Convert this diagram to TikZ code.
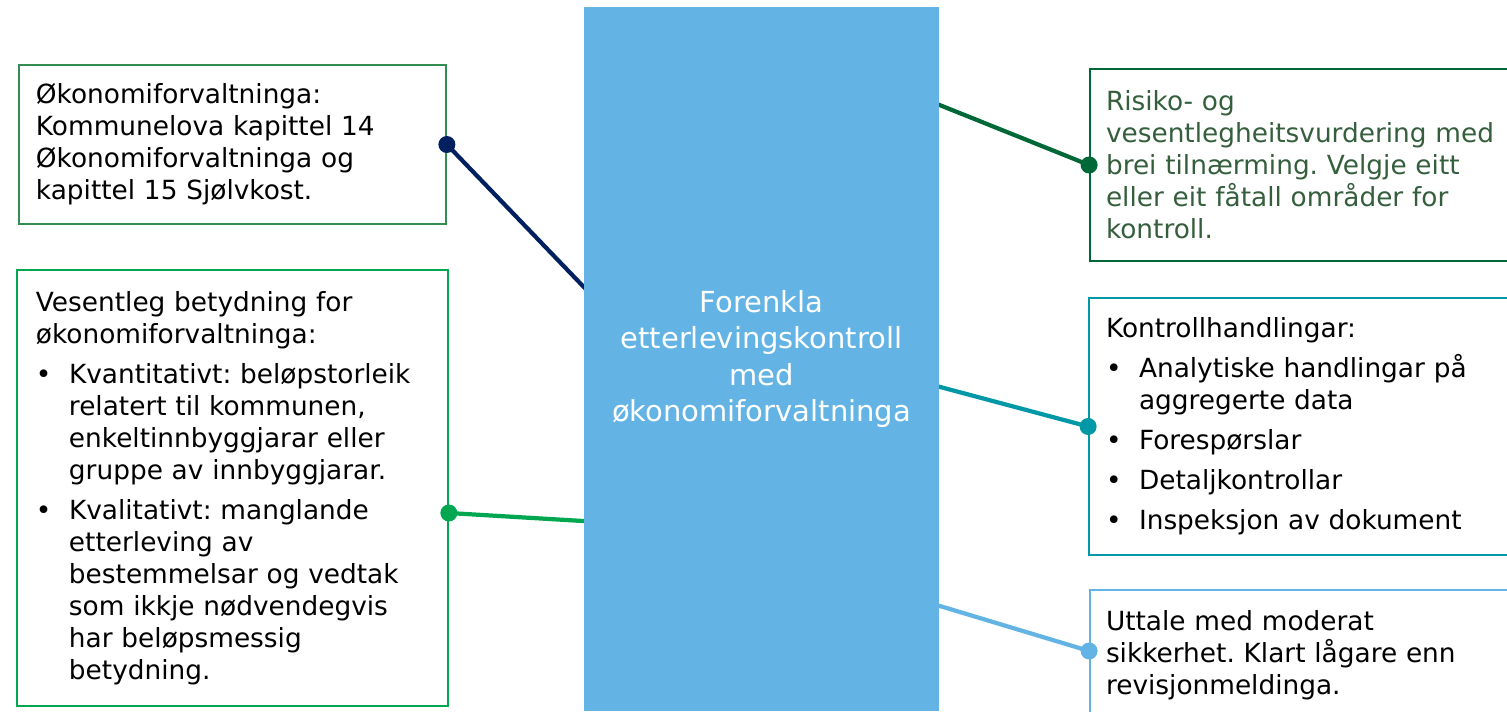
\documentclass[tikz,border=0pt]{standalone}
\usepackage{fontspec}
\setmainfont{DejaVu Sans}
\usepackage{xcolor}
\usepackage{tikz}
\usetikzlibrary{positioning,calc,backgrounds}

\definecolor{ctrblue}{RGB}{99,180,228}
\definecolor{navyline}{RGB}{0,32,96}
\definecolor{rulegreen}{RGB}{51,140,80}
\definecolor{siggreen}{RGB}{0,166,80}
\definecolor{riskgreen}{RGB}{0,104,55}
\definecolor{risktext}{RGB}{52,94,60}
\definecolor{actteal}{RGB}{0,151,167}

\frenchspacing
\newcommand{\boxfont}{\fontsize{15}{18.2}\selectfont}
\newcommand{\ctrfont}{\fontsize{16.5}{20.5}\selectfont}
\newcommand{\itm}[1]{\par\vspace{0.16cm}\hangindent=0.66cm\hangafter=1\noindent\makebox[0.66cm][l]{\textbullet}#1\par}

\begin{document}
\begin{tikzpicture}[
            infobox/.style={rectangle, draw, line width=1pt, inner ysep=0pt, align=left, font=\boxfont},
            link/.style={line width=2.4pt},
            knob/.style={circle, inner sep=0pt, minimum size=0.34cm}
        ]
        \useasboundingbox (0,0) rectangle (30.14,14.22);
        \clip (0,0) rectangle (30.14,14.22);

        \node[fill=ctrblue, minimum width=7.1cm, minimum height=14.08cm, text=white, align=center, font=\ctrfont] (ctr) at (15.23,7.04) {Forenkla\\etterlevingskontroll\\med\\økonomiforvaltninga};

        \node[infobox, draw=rulegreen, minimum width=8.54cm, minimum height=3.18cm, inner xsep=0.34cm, text width=7.86cm] (rules) at (4.65,11.33) {Økonomiforvaltninga:\newline Kommunelova kapittel 14\newline Økonomiforvaltninga og\newline kapittel 15 Sjølvkost.};

        \node[infobox, draw=siggreen, minimum width=8.62cm, minimum height=8.72cm, inner xsep=0.38cm, text width=7.86cm] (signif) at (4.65,4.46) {Vesentleg betydning for\newline økonomiforvaltninga:
            \itm{Kvantitativt: beløpstorleik\newline relatert til kommunen,\newline enkeltinnbyggjarar eller\newline gruppe av innbyggjarar.}
            \itm{Kvalitativt: manglande\newline etterleving av\newline bestemmelsar og vedtak\newline som ikkje nødvendegvis\newline har beløpsmessig\newline betydning.}};

        \node[infobox, draw=riskgreen, text=risktext, minimum width=8.64cm, minimum height=3.84cm, inner xsep=0.32cm, text width=8.0cm] (risk) at (26.12,10.92) {Risiko- og\newline vesentlegheitsvurdering med\newline brei tilnærming. Velgje eitt\newline eller eit fåtall områder for\newline kontroll.};

        \node[infobox, draw=actteal, minimum width=8.64cm, minimum height=5.14cm, inner xsep=0.34cm, text width=7.96cm] (acts) at (26.10,5.69) {Kontrollhandlingar:
            \itm{Analytiske handlingar på\newline aggregerte data}
            \itm{Forespørslar}
            \itm{Detaljkontrollar}
            \itm{Inspeksjon av dokument}};

        \node[infobox, draw=ctrblue, minimum width=8.64cm, minimum height=2.6cm, inner xsep=0.32cm, text width=8.0cm] (opinion) at (26.12,1.12) {Uttale med moderat\newline sikkerhet. Klart lågare enn\newline revisjonmeldinga.};

        \node[knob, fill=navyline] (dotA) at (rules.east) {};
        \node[knob, fill=siggreen] (dotB) at ($(signif.east)+(0,-0.5)$) {};
        \node[knob, fill=riskgreen] (dotC) at (risk.west) {};
        \node[knob, fill=actteal] (dotD) at (acts.west) {};
        \node[knob, fill=ctrblue] (dotE) at ($(opinion.west)+(0,0.08)$) {};

        \coordinate (inA) at ($(ctr.west)+(0.32,1.11)$);
        \coordinate (inB) at ($(ctr.west)+(0.32,-3.26)$);
        \coordinate (inC) at ($(ctr.east)+(-0.32,5.21)$);
        \coordinate (inD) at ($(ctr.east)+(-0.32,-0.47)$);
        \coordinate (inE) at ($(ctr.east)+(-0.32,-4.84)$);

        \begin{scope}[on background layer]
            \draw[link, navyline] (dotA.center) -- (inA);
            \draw[link, siggreen] (dotB.center) -- (inB);
            \draw[link, riskgreen] (dotC.center) -- (inC);
            \draw[link, actteal] (dotD.center) -- (inD);
            \draw[link, ctrblue] (dotE.center) -- (inE);
        \end{scope}

    \end{tikzpicture}
\end{document}
